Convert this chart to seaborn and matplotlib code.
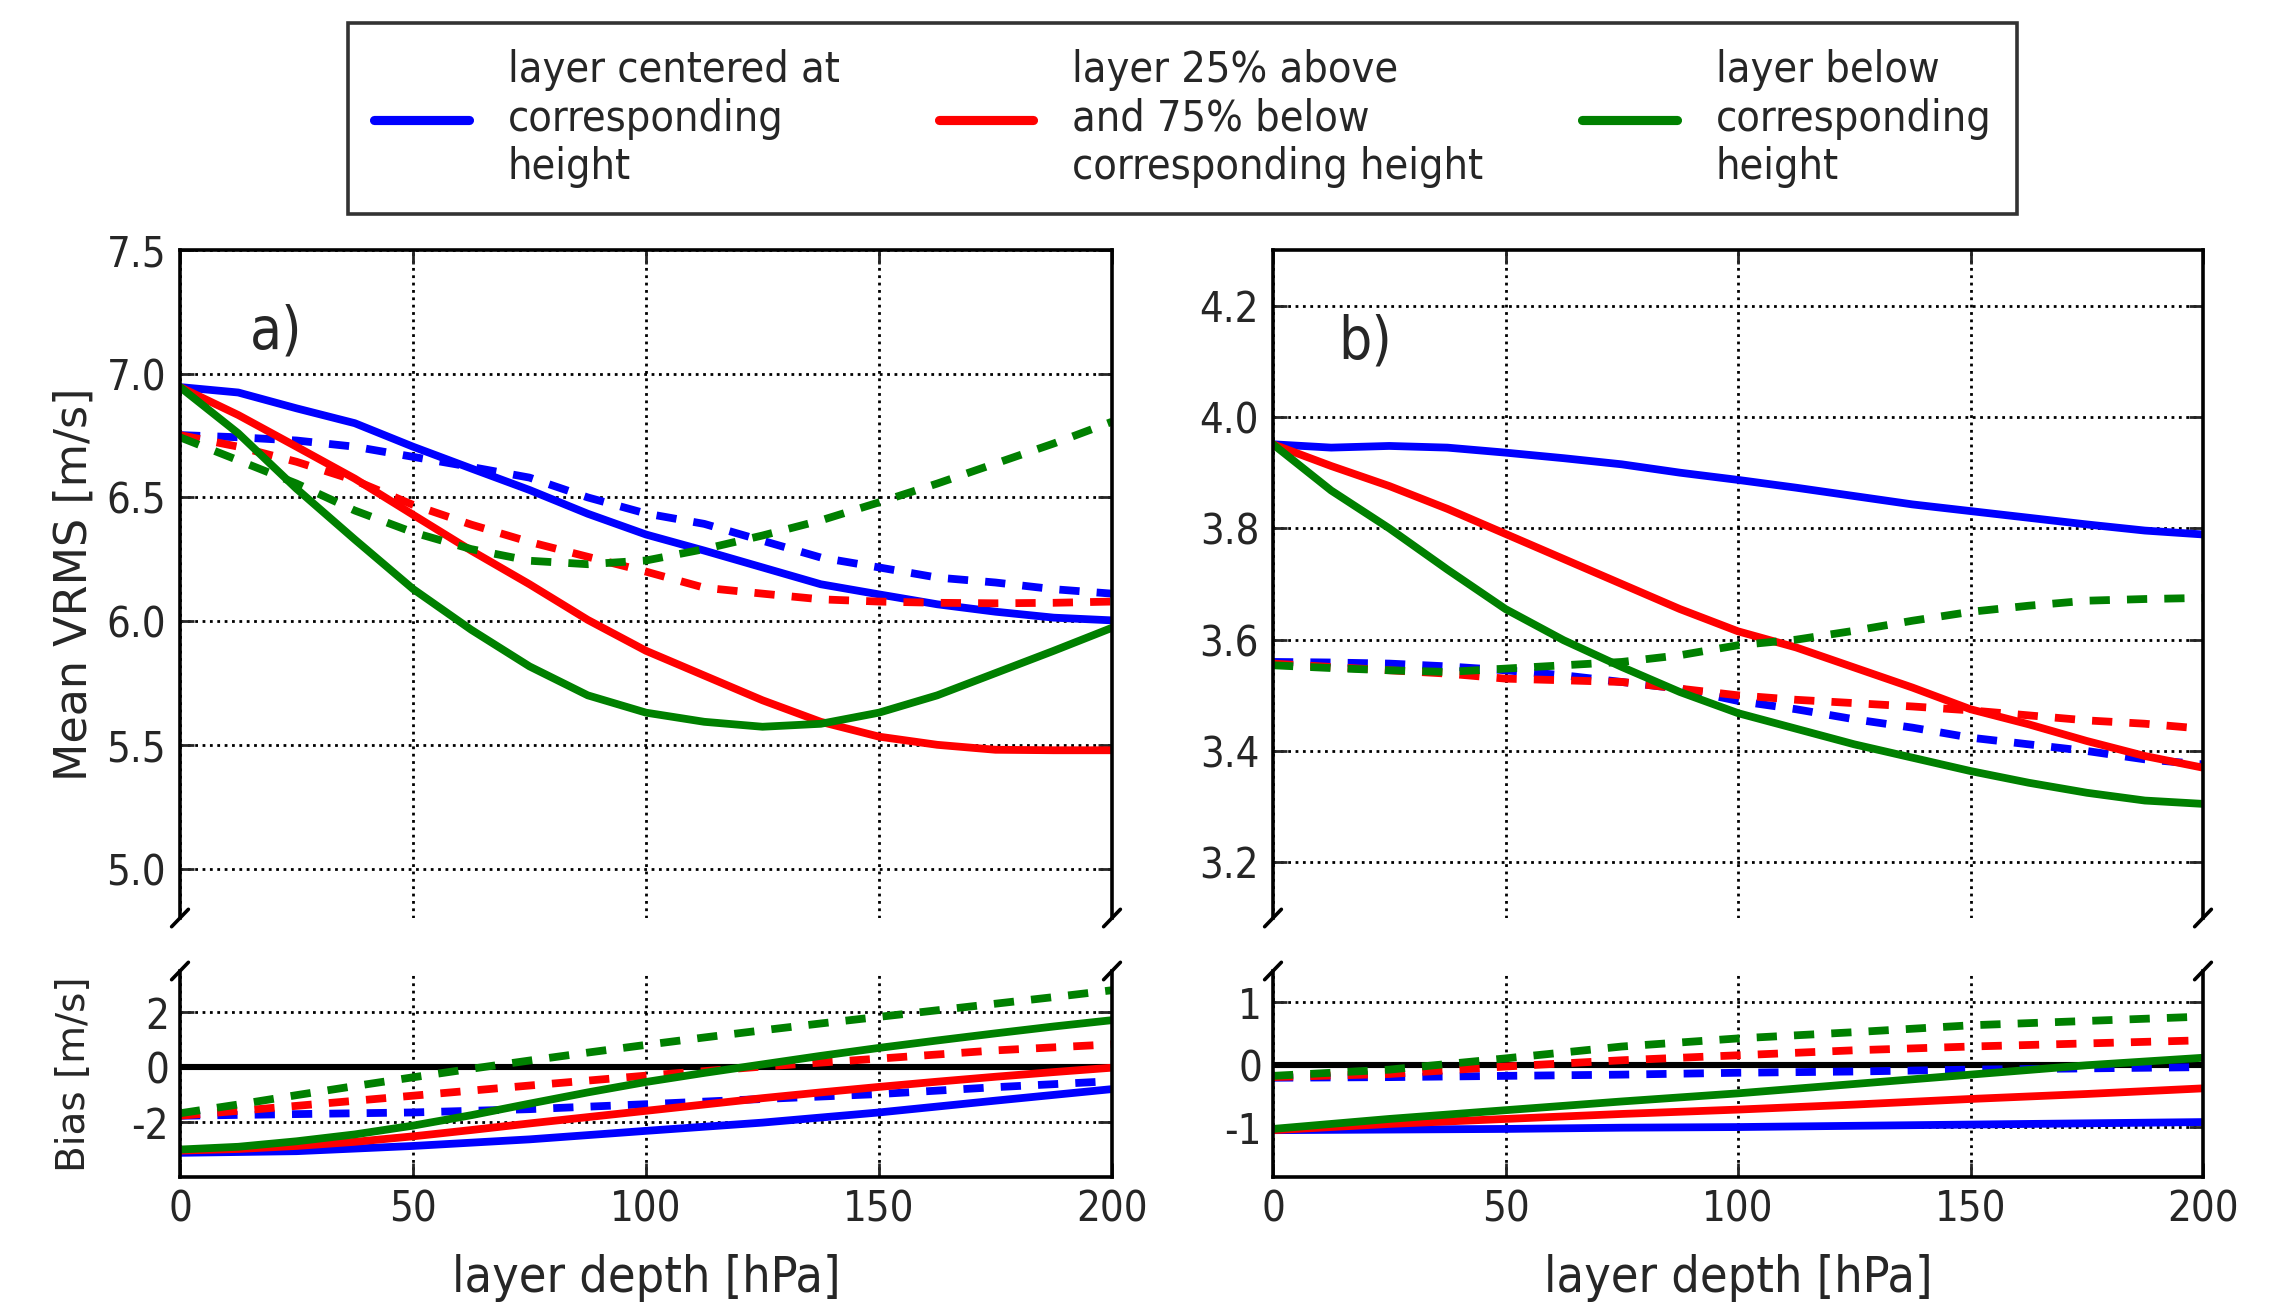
"""
plot.py - layer depth sensitivity of mean VRMS and bias (two regions, broken axes).
"""
import matplotlib
matplotlib.use("Agg")
import matplotlib.pyplot as plt
import matplotlib.ticker as mticker
import seaborn as sns
from matplotlib.lines import Line2D

# ── Data ──────────────────────────────────────────────────────────────────────
depth = [0, 25, 50, 75, 100, 125, 150, 175, 200]
depth_fine = [0, 12.5, 25, 37.5, 50, 62.5, 75, 87.5, 100,
              112.5, 125, 137.5, 150, 162.5, 175, 187.5, 200]

# panel a) mean VRMS (depth_fine)
a_centered   = [6.946, 6.924, 6.86, 6.80, 6.705, 6.617, 6.53, 6.434, 6.35,
                6.285, 6.217, 6.149, 6.108, 6.068, 6.038, 6.014, 6.003]
a_centered_d = [6.752, 6.743, 6.73, 6.705, 6.664, 6.623, 6.58, 6.50, 6.435,
                6.393, 6.325, 6.257, 6.217, 6.176, 6.156, 6.129, 6.111]
a_above25    = [6.946, 6.833, 6.705, 6.576, 6.43, 6.285, 6.149, 6.005, 5.88,
                5.78, 5.68, 5.593, 5.533, 5.50, 5.48, 5.478, 5.478]
a_above25_d  = [6.752, 6.705, 6.644, 6.569, 6.47, 6.39, 6.32, 6.26, 6.20,
                6.135, 6.111, 6.088, 6.079, 6.074, 6.072, 6.074, 6.079]
a_below      = [6.946, 6.759, 6.535, 6.33, 6.13, 5.965, 5.817, 5.70, 5.63,
                5.593, 5.573, 5.585, 5.63, 5.70, 5.79, 5.88, 5.973]
a_below_d    = [6.743, 6.65, 6.556, 6.447, 6.359, 6.291, 6.244, 6.23, 6.245,
                6.291, 6.346, 6.407, 6.48, 6.556, 6.637, 6.718, 6.806]

# panel b) mean VRMS (depth_fine)
b_centered   = [3.951, 3.945, 3.948, 3.945, 3.936, 3.926, 3.915, 3.90, 3.887,
                3.873, 3.858, 3.843, 3.831, 3.819, 3.807, 3.796, 3.789]
b_centered_d = [3.56, 3.559, 3.557, 3.552, 3.545, 3.536, 3.524, 3.512, 3.49,
                3.475, 3.457, 3.442, 3.424, 3.412, 3.40, 3.385, 3.376]
b_above25    = [3.951, 3.912, 3.876, 3.835, 3.79, 3.745, 3.70, 3.655, 3.615,
                3.586, 3.55, 3.514, 3.475, 3.448, 3.418, 3.391, 3.37]
b_above25_d  = [3.557, 3.551, 3.545, 3.539, 3.53, 3.527, 3.524, 3.512, 3.50,
                3.492, 3.486, 3.48, 3.473, 3.464, 3.455, 3.449, 3.44]
b_below      = [3.951, 3.868, 3.80, 3.726, 3.655, 3.599, 3.551, 3.506, 3.468,
                3.44, 3.412, 3.388, 3.364, 3.343, 3.325, 3.311, 3.305]
b_below_d    = [3.554, 3.549, 3.545, 3.542, 3.548, 3.554, 3.56, 3.572, 3.59,
                3.60, 3.616, 3.634, 3.65, 3.661, 3.67, 3.673, 3.675]

# panel a) bias
a_bias_centered   = [-3.12, -3.06, -2.87, -2.63, -2.32, -2.02, -1.65, -1.22, -0.80]
a_bias_centered_d = [-1.77, -1.71, -1.65, -1.53, -1.35, -1.16, -0.98, -0.73, -0.51]
a_bias_above25    = [-3.04, -2.98, -2.87, -2.72, -2.52, -2.29, -2.05, -1.82, -1.59,
                     -1.36, -1.13, -0.92, -0.72, -0.53, -0.35, -0.18, -0.02]  # fine
a_bias_above25_d  = [-1.77, -1.41, -1.04, -0.67, -0.31, 0.02, 0.31, 0.61, 0.83]
a_bias_below      = [-3.00, -2.90, -2.70, -2.45, -2.13, -1.75, -1.33, -0.92, -0.54,
                     -0.21, 0.10, 0.41, 0.70, 0.97, 1.23, 1.48, 1.71]  # fine
a_bias_below_d    = [-1.68, -1.36, -1.02, -0.69, -0.37, -0.06, 0.24, 0.53, 0.81,
                     1.08, 1.34, 1.59, 1.83, 2.07, 2.31, 2.55, 2.80]  # fine

# panel b) bias
b_bias_centered   = [-1.05, -1.04, -1.03, -1.01, -1.00, -0.98, -0.96, -0.94, -0.92]
b_bias_centered_d = [-0.21, -0.20, -0.18, -0.16, -0.13, -0.11, -0.08, -0.06, -0.04]
b_bias_above25    = [-1.05, -0.95, -0.87, -0.79, -0.72, -0.64, -0.55, -0.47, -0.38]
b_bias_above25_d  = [-0.20, -0.15, -0.03, 0.07, 0.15, 0.23, 0.29, 0.34, 0.39]
b_bias_below      = [-1.03, -0.87, -0.73, -0.59, -0.46, -0.31, -0.16, -0.01, 0.11]
b_bias_below_d    = [-0.18, -0.08, 0.10, 0.29, 0.42, 0.52, 0.63, 0.70, 0.77]

legend_labels = [
    "layer centered at\ncorresponding\nheight",
    "layer 25% above\nand 75% below\ncorresponding height",
    "layer below\ncorresponding\nheight",
]
colors = ["blue", "red", "green"]

# ── Style ─────────────────────────────────────────────────────────────────────
sns.set_style("white")
plt.rcParams["font.family"] = ["DejaVu Sans"]
plt.rcParams["font.stretch"] = "condensed"

LW = 2.8
DASH = (0, (2.6, 2.2))
FS = 15

fig = plt.figure(figsize=(11.395, 6.515), dpi=200)
W, H = 2279, 1303


def fig_rect(x0, x1, ytop, ybot):
    return [x0 / W, 1 - ybot / H, (x1 - x0) / W, (ybot - ytop) / H]


ax_a = fig.add_axes(fig_rect(180, 1112, 250, 918))
ax_b = fig.add_axes(fig_rect(1273, 2203, 250, 918))
ax_ab = fig.add_axes(fig_rect(180, 1112, 971, 1177))
ax_bb = fig.add_axes(fig_rect(1273, 2203, 971, 1177))


def draw(ax, series):
    for xs, vals, col, dashed in series:
        sns.lineplot(x=xs, y=vals, color=col, lw=LW,
                     linestyle=DASH if dashed else "-", ax=ax)


F, C = depth_fine, depth
draw(ax_a, [(F, a_centered, "blue", False), (F, a_centered_d, "blue", True),
            (F, a_above25, "red", False), (F, a_above25_d, "red", True),
            (F, a_below, "green", False), (F, a_below_d, "green", True)])
draw(ax_b, [(F, b_centered, "blue", False), (F, b_centered_d, "blue", True),
            (F, b_above25, "red", False), (F, b_above25_d, "red", True),
            (F, b_below, "green", False), (F, b_below_d, "green", True)])
draw(ax_ab, [(C, a_bias_centered, "blue", False), (C, a_bias_centered_d, "blue", True),
             (F, a_bias_above25, "red", False), (C, a_bias_above25_d, "red", True),
             (F, a_bias_below, "green", False), (F, a_bias_below_d, "green", True)])
draw(ax_bb, [(C, b_bias_centered, "blue", False), (C, b_bias_centered_d, "blue", True),
             (C, b_bias_above25, "red", False), (C, b_bias_above25_d, "red", True),
             (C, b_bias_below, "green", False), (C, b_bias_below_d, "green", True)])

for ax in (ax_ab, ax_bb):
    ax.axhline(0, color="black", lw=2.2, zorder=1)

# ── Axes ──────────────────────────────────────────────────────────────────────
ax_a.set_ylim(4.8, 7.5)
ax_a.set_yticks([5.0, 5.5, 6.0, 6.5, 7.0, 7.5])
ax_b.set_ylim(3.1, 4.3)
ax_b.set_yticks([3.2, 3.4, 3.6, 3.8, 4.0, 4.2])
ax_ab.set_ylim(-4, 3.5)
ax_ab.set_yticks([-2, 0, 2])
ax_bb.set_ylim(-1.8, 1.5)
ax_bb.set_yticks([-1, 0, 1])

for ax in (ax_a, ax_b, ax_ab, ax_bb):
    ax.set_xlim(0, 200)
    ax.set_xticks([0, 50, 100, 150, 200])
    ax.grid(True, color="black", linestyle=":", lw=1.0)
    ax.tick_params(direction="in", length=5, width=1, labelsize=FS, pad=5,
                   top=True, right=True, left=True, bottom=True)
    for sp in ax.spines.values():
        sp.set_color("black")
        sp.set_linewidth(1.3)
    ax.yaxis.set_major_formatter(mticker.FormatStrFormatter(
        "%.1f" if ax in (ax_a, ax_b) else "%d"))

for ax in (ax_a, ax_b):
    ax.spines["bottom"].set_visible(False)
    ax.tick_params(labelbottom=False, bottom=False)
for ax in (ax_ab, ax_bb):
    ax.spines["top"].set_visible(False)
    ax.tick_params(top=False, pad=4)
    ax.set_xlabel("layer depth [hPa]", fontsize=18, labelpad=8.5)

ax_a.set_ylabel("Mean VRMS [m/s]", fontsize=16, labelpad=4, fontstretch="normal")
ax_ab.set_ylabel("Bias [m/s]", fontsize=14, labelpad=14, fontstretch="normal")

ax_a.text(15, 7.17, "a)", fontsize=21, va="center")
ax_b.text(14, 4.135, "b)", fontsize=21, va="center")

# broken-axis marks
for top, bot in ((ax_a, ax_ab), (ax_b, ax_bb)):
    dx = 0.009
    dy_top = 0.013
    dy_bot = dy_top * 668 / 206
    kw = dict(color="black", lw=1.3, clip_on=False)
    for x0 in (0, 1):
        top.plot((x0 - dx, x0 + dx), (-dy_top, dy_top), transform=top.transAxes, **kw)
        bot.plot((x0 - dx, x0 + dx), (1 - dy_bot, 1 + dy_bot), transform=bot.transAxes, **kw)

# ── Legend ────────────────────────────────────────────────────────────────────
handles = [Line2D([], [], color=c, lw=3.3) for c in colors]
leg = fig.legend(handles, legend_labels, ncol=3, loc="center",
                 bbox_to_anchor=(0.519, 0.909), fontsize=15.5,
                 frameon=True, fancybox=False, edgecolor="black",
                 handlelength=2.2, handletextpad=0.9, columnspacing=2.3,
                 borderpad=0.6)
leg.get_frame().set_linewidth(1.3)

fig.savefig("out.png", dpi=200)
